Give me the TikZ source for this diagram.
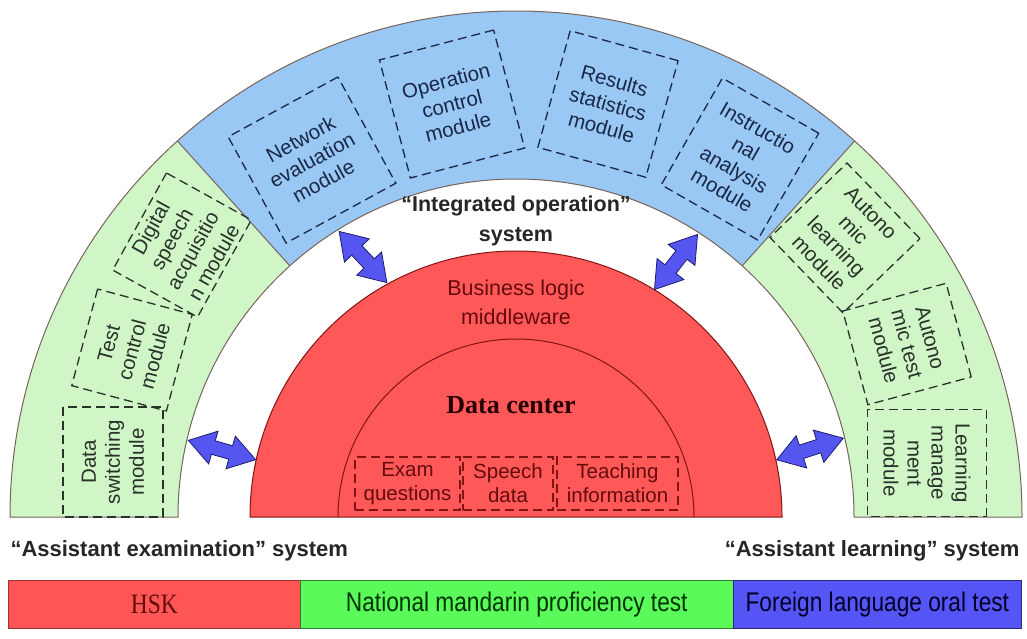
\documentclass[tikz,border=0pt]{standalone}
\usepackage{fontspec}
\setmainfont{Liberation Sans}
\newfontfamily\serifx{Liberation Serif}
\newfontfamily\narrowx[FakeStretch=0.84]{Liberation Sans}
\newfontfamily\narrowserif[FakeStretch=0.84]{Liberation Serif}
\definecolor{bandgreen}{RGB}{208,246,200}
\definecolor{bandblue}{RGB}{153,200,245}
\definecolor{redfill}{RGB}{255,88,88}
\definecolor{redline}{RGB}{130,20,20}
\definecolor{bandline}{RGB}{120,100,90}
\definecolor{legred}{RGB}{255,85,85}
\definecolor{leggreen}{RGB}{90,250,90}
\definecolor{legblue}{RGB}{85,85,245}
\definecolor{arrowfill}{RGB}{85,85,240}
\definecolor{arrowline}{RGB}{30,30,110}
\definecolor{greenbox}{RGB}{40,50,40}
\definecolor{bluebox}{RGB}{25,40,70}
\definecolor{redtext}{RGB}{100,12,12}
\begin{document}
\begin{tikzpicture}[x=1pt,y=1pt,
  module/.style={dash pattern=on 9pt off 5pt, line width=1.3pt, inner sep=0pt,
    align=center, font=\fontsize{20.5}{24}\selectfont},
  gmod/.style={module, draw=greenbox, text=greenbox},
  bmod/.style={module, draw=bluebox, text=bluebox},
  dmod/.style={module, draw=redline, text=redtext, minimum height=53pt},
  legbox/.style={line width=0.6pt, minimum height=48pt, inner sep=0pt},
  dblarrow/.pic={\filldraw[fill=arrowfill, draw=arrowline, line width=0.8pt, line join=miter]
    (-35,0) -- (-9,17) -- (-9,7) -- (9,7) -- (9,17) -- (35,0) -- (9,-17) -- (9,-7)
    -- (-9,-7) -- (-9,-17) -- cycle;}
]
\useasboundingbox (0,0) rectangle (1027,-638);

% bands
\begin{scope}[shift={(516,-517)}]
  \fill[bandgreen] (180:506pt) arc[start angle=180,end angle=0,radius=506pt]
    -- (0:338pt) arc[start angle=0,end angle=180,radius=338pt] -- cycle;
  \fill[bandblue] (48:506pt) arc[start angle=48,end angle=132,radius=506pt]
    -- (132:338pt) arc[start angle=132,end angle=48,radius=338pt] -- cycle;
  \draw[bandline, line width=1pt] (180:506pt) arc[start angle=180,end angle=0,radius=506pt]
    -- (0:338pt) arc[start angle=0,end angle=180,radius=338pt] -- cycle;
  \draw[bandline, line width=1pt] (48:338pt) -- (48:506pt) (132:338pt) -- (132:506pt);
  \filldraw[fill=redfill, draw=redline, line width=1pt] (180:266pt)
    arc[start angle=180,end angle=0,radius=266pt] -- cycle;
  \draw[redline, line width=1pt] (180:178pt) arc[start angle=180,end angle=0,radius=178pt];
\end{scope}

% left green modules
\node[gmod, rotate=90, minimum width=110pt, minimum height=100pt] (m1) at (113,-462)
  {Data\\switching\\module};
\node[gmod, rotate=75, minimum width=100pt, minimum height=98pt] (m2) at (132,-350)
  {Test\\control\\module};
\node[gmod, rotate=61, minimum width=111pt, minimum height=97pt] (m3) at (182,-245)
  {Digital\\speech\\acquisitio\\n module};

% blue modules
\node[bmod, rotate=28.6, minimum width=125pt, minimum height=121pt] (m4) at (312,-160)
  {Network\\evaluation\\module};
\node[bmod, rotate=14.7, minimum width=118pt, minimum height=122pt] (m5) at (452,-104)
  {Operation\\control\\module};
\node[bmod, rotate=-15.5, minimum width=112pt, minimum height=121pt] (m6) at (608,-104)
  {Results\\statistics\\module};
\node[bmod, rotate=-29.8, minimum width=111pt, minimum height=123pt] (m7) at (740,-159)
  {Instructio\\nal\\analysis\\module};

% right green modules
\node[gmod, rotate=-46, minimum width=105pt, minimum height=107pt] (m8) at (845,-238)
  {Autono\\mic\\learning\\module};
\node[gmod, rotate=-75, minimum width=97pt, minimum height=107pt] (m9) at (907,-344)
  {Autono\\mic test\\module};
\node[gmod, rotate=-90, minimum width=107pt, minimum height=119pt] (m10) at (927,-463)
  {Learning\\manage\\ment\\module};

% data center boxes
\node[dmod, minimum width=105pt] (d1) at (407.5,-483.5) {Exam\\questions};
\node[dmod, minimum width=90pt] (d2) at (508,-483.5) {Speech\\data};
\node[dmod, minimum width=121pt] (d3) at (617.5,-483.5) {Teaching\\information};

% central texts
\node[font=\bfseries\fontsize{21.5}{30}\selectfont, text=black!85, align=center] (integ)
  at (516,-221) {“Integrated operation”\\system};
\node[font=\fontsize{21.5}{29}\selectfont, text=redtext, align=center] (blm)
  at (516,-302) {Business logic\\middleware};
\node[font=\serifx\bfseries\fontsize{26}{28}\selectfont, text=black!85!red] (dc)
  at (511,-405) {Data center};

% arrows
\pic[rotate=-16] at (222,-450) {dblarrow};
\pic[rotate=-47] at (363,-257) {dblarrow};
\pic[rotate=52] at (676,-262) {dblarrow};
\pic[rotate=18] at (810,-449) {dblarrow};

% system labels
\node[font=\bfseries\fontsize{22}{26}\selectfont, text=black!85, anchor=base west] (ae)
  at (7,-556) {“Assistant examination” system};
\node[font=\bfseries\fontsize{22}{26}\selectfont, text=black!85, anchor=base east] (al)
  at (1023,-556) {“Assistant learning” system};

% legend
\node[legbox, fill=legred, draw=legred!60!black, minimum width=292pt, anchor=north west,
  font=\narrowserif\fontsize{28}{30}\selectfont, text=redtext] (l1) at (8,-580) {HSK};
\node[legbox, fill=leggreen, draw=leggreen!50!black, minimum width=433pt, anchor=north west,
  font=\narrowx\fontsize{27}{30}\selectfont, text=black!80!green] (l2) at (300,-580)
  {National mandarin proficiency test};
\node[legbox, fill=legblue, draw=legblue!50!black, minimum width=288pt, anchor=north west,
  font=\narrowx\fontsize{27}{30}\selectfont, text=black!85!blue] (l3) at (733,-580)
  {Foreign language oral test};
\end{tikzpicture}
\end{document}
